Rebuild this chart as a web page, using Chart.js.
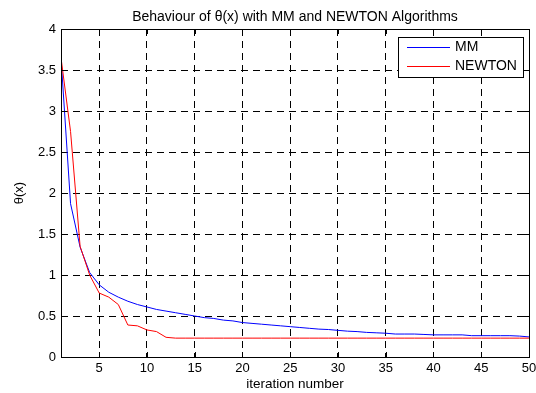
<!DOCTYPE html>
<html>
<head>
<meta charset="utf-8">
<script src="https://cdn.jsdelivr.net/npm/chart.js@4/dist/chart.umd.min.js"></script>
<style>
  html, body { margin:0; padding:0; background:#fff; }
  #wrap { width:536px; height:393px; position:relative; }
</style>
</head>
<body>
<div id="wrap"><canvas id="chart" width="536" height="393"></canvas></div>
<script>
'use strict';

const iterations = [1,2,3,4,5,6,7,8,9,10,11,12,13,14,15,16,17,18,19,20,21,22,23,24,25,
  26,27,28,29,30,31,32,33,34,35,36,37,38,39,40,41,42,43,44,45,46,47,48,49,50];
const mmTheta = [3.65,1.87,1.34,1.03,0.88,0.79,0.73,0.68,0.64,0.61,0.58,0.56,0.54,0.52,0.50,
  0.48,0.47,0.45,0.44,0.42,0.41,0.40,0.39,0.38,0.37,0.36,0.35,0.34,0.335,0.325,0.315,0.31,
  0.30,0.295,0.29,0.28,0.28,0.28,0.275,0.27,0.27,0.27,0.27,0.26,0.26,0.26,0.26,0.26,0.255,0.245];
const newtonTheta = [3.65,2.75,1.35,1.0,0.78,0.73,0.64,0.39,0.38,0.33,0.31,0.24,0.23,0.23,0.23,
  0.23,0.23,0.23,0.23,0.23,0.23,0.23,0.23,0.23,0.23,0.23,0.23,0.23,0.23,0.23,0.23,0.23,0.23,
  0.23,0.23,0.23,0.23,0.23,0.23,0.23,0.23,0.23,0.23,0.23,0.23,0.23,0.23,0.23,0.23,0.23];
const xTicks = [5,10,15,20,25,30,35,40,45,50];
const yTicks = [0,0.5,1,1.5,2,2.5,3,3.5,4];
const seriesNames = ['MM', 'NEWTON'];
const seriesColors = ['#0000ff', '#ff0000'];

const FONT = 'Arial, "Liberation Sans", Helvetica, sans-serif';
const DASH = [7, 5];

// frame, inner ticks, legend box and title drawn like the matlab figure
const matlabFrame = {
  id: 'matlabFrame',
  afterDraw(chart) {
    const { ctx, chartArea: a, scales: { x, y } } = chart;
    ctx.save();
    ctx.strokeStyle = '#000';
    ctx.lineWidth = 1;
    ctx.setLineDash([]);
    ctx.strokeRect(Math.round(a.left) + 0.5, Math.round(a.top) + 0.5,
      Math.round(a.right - a.left), Math.round(a.bottom - a.top));

    ctx.beginPath();
    for (const v of xTicks) {
      const px = Math.round(x.getPixelForValue(v)) + 0.5;
      ctx.moveTo(px, a.bottom); ctx.lineTo(px, a.bottom - 5);
      ctx.moveTo(px, a.top); ctx.lineTo(px, a.top + 5);
    }
    for (const v of yTicks) {
      const py = Math.round(y.getPixelForValue(v)) + 0.5;
      ctx.moveTo(a.left, py); ctx.lineTo(a.left + 5, py);
      ctx.moveTo(a.right, py); ctx.lineTo(a.right - 5, py);
    }
    ctx.stroke();

    // legend
    ctx.fillStyle = '#fff';
    ctx.fillRect(398, 37, 125, 40);
    ctx.strokeStyle = '#000';
    ctx.strokeRect(398.5, 37.5, 125, 40);
    ctx.font = '14px ' + FONT;
    ctx.textBaseline = 'middle';
    seriesNames.forEach((name, i) => {
      const ly = 47.5 + i * 19;
      ctx.strokeStyle = seriesColors[i];
      ctx.beginPath();
      ctx.moveTo(407, ly); ctx.lineTo(450, ly);
      ctx.stroke();
      ctx.fillStyle = '#000';
      ctx.fillText(name, 455, ly);
    });

    // title
    ctx.fillStyle = '#000';
    ctx.textAlign = 'center';
    ctx.textBaseline = 'alphabetic';
    ctx.font = '14px ' + FONT;
    ctx.fillText('Behaviour of \u03b8(x) with MM and NEWTON Algorithms', (a.left + a.right) / 2, 20.5);
    ctx.restore();
  }
};

const edgeColor = (edges) => c => (c.tick && edges.includes(c.tick.value)) ? 'rgba(0,0,0,0)' : '#000';

new Chart(document.getElementById('chart').getContext('2d'), {
  type: 'line',
  data: {
    labels: iterations,
    datasets: [
      { label: seriesNames[0], data: iterations.map((it, i) => ({ x: it, y: mmTheta[i] })),
        borderColor: seriesColors[0], borderWidth: 1, pointRadius: 0, tension: 0, fill: false, order: 1 },
      { label: seriesNames[1], data: iterations.map((it, i) => ({ x: it, y: newtonTheta[i] })),
        borderColor: seriesColors[1], borderWidth: 1, pointRadius: 0, tension: 0, fill: false, order: 0 },
    ],
  },
  options: {
    responsive: false,
    animation: false,
    devicePixelRatio: 1,
    layout: { padding: { left: 0, right: 7, top: 29, bottom: 0 } },
    plugins: { legend: { display: false }, title: { display: false }, tooltip: { enabled: false } },
    scales: {
      x: {
        type: 'linear', min: 1, max: 50,
        afterBuildTicks: s => { s.ticks = xTicks.map(v => ({ value: v })); },
        afterFit: s => { s.height = 36; s.paddingLeft = 0; s.paddingRight = 0; },
        grid: { drawTicks: false, color: edgeColor([1, 50]), lineWidth: 1, borderDash: DASH },
        border: { display: false, dash: DASH },
        ticks: { color: '#000', font: { family: FONT, size: 13 }, padding: 4, maxRotation: 0, autoSkip: false },
        title: { display: true, text: 'iteration number', color: '#000',
          font: { family: FONT, size: 13.5 }, padding: { top: 0, bottom: 1 } },
      },
      y: {
        type: 'linear', min: 0, max: 4,
        afterBuildTicks: s => { s.ticks = yTicks.map(v => ({ value: v })); },
        afterFit: s => { s.width = 61; },
        grid: { drawTicks: false, color: edgeColor([0, 4]), lineWidth: 1, borderDash: DASH },
        border: { display: false, dash: DASH },
        ticks: { color: '#000', font: { family: FONT, size: 13 }, padding: 5, callback: v => String(v) },
        title: { display: true, text: '\u03b8(x)', color: '#000',
          font: { family: FONT, size: 13 }, padding: { top: 12, bottom: 0 } },
      },
    },
  },
  plugins: [matlabFrame],
});
</script>
</body>
</html>
